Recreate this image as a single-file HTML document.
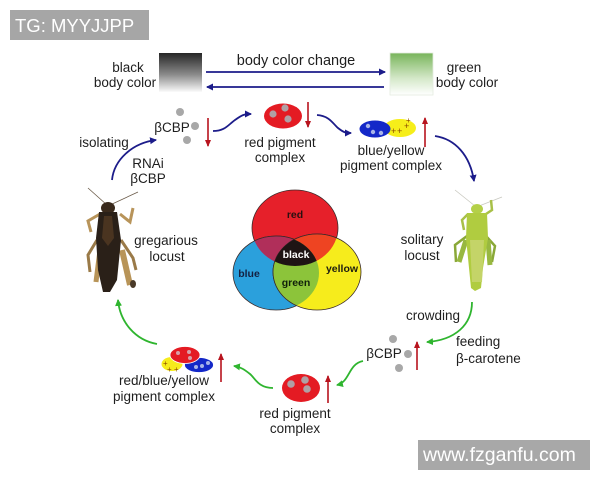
<!DOCTYPE html>
<html><head><meta charset="utf-8"><style>
html,body{margin:0;padding:0;background:#fff;}
svg{display:block;}
text{font-family:"Liberation Sans",Arial,sans-serif;fill:#1e1e1e;}
</style></head><body>
<svg width="600" height="480" viewBox="0 0 600 480" xmlns="http://www.w3.org/2000/svg">
<defs>
<linearGradient id="gb" x1="0" y1="0" x2="0" y2="1"><stop offset="0" stop-color="#262626"/><stop offset="0.55" stop-color="#8a8a8a"/><stop offset="1" stop-color="#fbfbfb"/></linearGradient>
<linearGradient id="gg" x1="0" y1="0" x2="0" y2="1"><stop offset="0" stop-color="#78b45a"/><stop offset="0.6" stop-color="#d4e8c8"/><stop offset="1" stop-color="#ffffff"/></linearGradient>
<marker id="ab" markerWidth="8" markerHeight="8" refX="6" refY="4" orient="auto" markerUnits="userSpaceOnUse"><path d="M0,0.5 L7,4 L0,7.5 Z" fill="#1c1c8a"/></marker>
<marker id="ag" markerWidth="8" markerHeight="8" refX="6" refY="4" orient="auto" markerUnits="userSpaceOnUse"><path d="M0,0.5 L7,4 L0,7.5 Z" fill="#2fb52f"/></marker>
<marker id="ar" markerWidth="8" markerHeight="8" refX="6" refY="4" orient="auto" markerUnits="userSpaceOnUse"><path d="M0,1 L7,4 L0,7 Z" fill="#b8141e"/></marker>
</defs>

<!-- top watermark -->
<rect x="10" y="10" width="139" height="30" fill="#a6a6a6"/>
<text x="15" y="32" style="font-size:18.5px;fill:#fff">TG: MYYJJPP</text>

<!-- body color change -->
<rect x="159" y="53" width="43" height="39" fill="url(#gb)"/>
<text x="128" y="72" text-anchor="middle" style="font-size:13.5px">black</text>
<text x="125" y="87" text-anchor="middle" style="font-size:13.5px">body color</text>
<rect x="390" y="53" width="43" height="42" fill="url(#gg)" stroke="#e4ece0" stroke-width="0.8"/>
<text x="464" y="72" text-anchor="middle" style="font-size:13.5px">green</text>
<text x="467" y="87" text-anchor="middle" style="font-size:13.5px">body color</text>
<text x="296" y="65" text-anchor="middle" style="font-size:14.5px">body color change</text>
<line x1="206" y1="72" x2="385" y2="72" stroke="#1c1c8a" stroke-width="1.8" marker-end="url(#ab)"/>
<line x1="384" y1="87" x2="207" y2="87" stroke="#1c1c8a" stroke-width="1.8" marker-end="url(#ab)"/>

<!-- top-left βCBP -->
<circle cx="180" cy="112" r="4" fill="#a8a8a8"/>
<circle cx="195" cy="126" r="4" fill="#a8a8a8"/>
<circle cx="187" cy="140" r="4" fill="#a8a8a8"/>
<text x="172" y="132" text-anchor="middle" style="font-size:13.5px">βCBP</text>
<line x1="208" y1="118" x2="208" y2="146" stroke="#b8141e" stroke-width="1.6" marker-end="url(#ar)"/>
<text x="104" y="147" text-anchor="middle" style="font-size:13.5px">isolating</text>
<text x="148" y="168" text-anchor="middle" style="font-size:13.5px">RNAi</text>
<text x="148" y="183" text-anchor="middle" style="font-size:13.5px">βCBP</text>
<path d="M112,180 C114,160 132,143 156,140" fill="none" stroke="#1c1c8a" stroke-width="1.8" marker-end="url(#ab)"/>

<!-- red pigment top -->
<path d="M213,131 C225,131 228,125 235,120 S244,114 251,114" fill="none" stroke="#1c1c8a" stroke-width="1.8" marker-end="url(#ab)"/>
<ellipse cx="283" cy="116" rx="19" ry="12.5" fill="#e41b23"/>
<circle cx="273" cy="114" r="3.6" fill="#b0a0a4"/>
<circle cx="285" cy="108" r="3.6" fill="#b0a0a4"/>
<circle cx="288" cy="119" r="3.6" fill="#b0a0a4"/>
<line x1="308" y1="102" x2="308" y2="127" stroke="#b8141e" stroke-width="1.6" marker-end="url(#ar)"/>
<text x="280" y="147" text-anchor="middle" style="font-size:13.5px">red pigment</text>
<text x="280" y="162" text-anchor="middle" style="font-size:13.5px">complex</text>

<!-- blue/yellow top -->
<path d="M317,115 C330,116 333,124 338,128 S345,133 351,133" fill="none" stroke="#1c1c8a" stroke-width="1.8" marker-end="url(#ab)"/>
<ellipse cx="400" cy="128" rx="16" ry="9" fill="#f6ee1a"/>
<ellipse cx="375" cy="129" rx="15.5" ry="8.5" fill="#1428c8"/>
<circle cx="368" cy="126" r="2.2" fill="#a8b4e8"/>
<circle cx="373" cy="132" r="2.2" fill="#a8b4e8"/>
<circle cx="381" cy="133" r="2.2" fill="#a8b4e8"/>
<text x="391" y="134" style="font-size:9px;fill:#8a4a00">+</text>
<text x="397" y="134" style="font-size:9px;fill:#8a4a00">+</text>
<text x="404" y="129" style="font-size:9px;fill:#8a4a00">+</text>
<text x="406" y="123" style="font-size:8px;fill:#8a4a00">+</text>
<line x1="425" y1="147" x2="425" y2="118" stroke="#b8141e" stroke-width="1.6" marker-end="url(#ar)"/>
<text x="391" y="155" text-anchor="middle" style="font-size:13.5px">blue/yellow</text>
<text x="391" y="170" text-anchor="middle" style="font-size:13.5px">pigment complex</text>
<path d="M435,136 C455,139 470,155 474,181" fill="none" stroke="#1c1c8a" stroke-width="1.8" marker-end="url(#ab)"/>

<!-- gregarious locust -->
<g>
<path d="M107,205 L88,188" stroke="#6a5a48" stroke-width="0.8" fill="none"/>
<path d="M110,205 L138,192" stroke="#6a5a48" stroke-width="0.8" fill="none"/>
<path d="M100,214 L88,221 L91,232" stroke="#b8945a" stroke-width="3" fill="none"/>
<path d="M120,214 L130,222 L133,208" stroke="#b8945a" stroke-width="3" fill="none"/>
<path d="M97,240 L88,255 L90,272" stroke="#9a7a48" stroke-width="3" fill="none"/>
<path d="M121,240 L133,258 L136,270" stroke="#9a7a48" stroke-width="3" fill="none"/>
<path d="M100,250 L96,282" stroke="#b89458" stroke-width="5" fill="none"/>
<path d="M122,250 L130,285" stroke="#b89458" stroke-width="6" fill="none"/>
<ellipse cx="108" cy="208" rx="7" ry="6" fill="#3a2a1c"/>
<path d="M99,212 L117,212 L121,240 L117,280 L110,292 L103,292 L98,270 L96,238 Z" fill="#2a2018"/>
<path d="M104,216 L112,216 L114,238 L108,246 L102,238 Z" fill="#4a3420"/>
<ellipse cx="133" cy="284" rx="3" ry="4" fill="#4a3a28"/>
</g>
<text x="166" y="245" text-anchor="middle" style="font-size:13.5px">gregarious</text>
<text x="167" y="261" text-anchor="middle" style="font-size:13.5px">locust</text>

<!-- Venn -->
<g stroke="#3a2a2a" stroke-width="0.8">
<ellipse cx="295" cy="228" rx="43" ry="38" fill="#e6202a"/>
<ellipse cx="276" cy="273" rx="43" ry="37" fill="#2ba0dc"/>
<ellipse cx="317" cy="272" rx="44" ry="38" fill="#f6ec1c"/>
</g>
<defs>
<clipPath id="cr"><ellipse cx="295" cy="228" rx="43" ry="38"/></clipPath>
<clipPath id="cb"><ellipse cx="276" cy="273" rx="43" ry="37"/></clipPath>
<clipPath id="cy"><ellipse cx="317" cy="272" rx="44" ry="38"/></clipPath>
</defs>
<g clip-path="url(#cr)"><ellipse cx="276" cy="273" rx="43" ry="37" fill="#b02f5a" stroke="#3a2a2a" stroke-width="0.8"/></g>
<g clip-path="url(#cr)"><ellipse cx="317" cy="272" rx="44" ry="38" fill="#ee4422" stroke="#3a2a2a" stroke-width="0.8"/></g>
<g clip-path="url(#cb)"><ellipse cx="317" cy="272" rx="44" ry="38" fill="#8cc43a" stroke="#3a2a2a" stroke-width="0.8"/></g>
<g clip-path="url(#cb)"><g clip-path="url(#cy)"><ellipse cx="295" cy="228" rx="43" ry="38" fill="#1e1414"/></g></g>
<text x="295" y="218" text-anchor="middle" style="font-size:10.5px;font-weight:bold;fill:#2a1010">red</text>
<text x="296" y="258" text-anchor="middle" style="font-size:10.5px;font-weight:bold;fill:#ffffff">black</text>
<text x="249" y="277" text-anchor="middle" style="font-size:10.5px;font-weight:bold;fill:#142040">blue</text>
<text x="342" y="272" text-anchor="middle" style="font-size:10.5px;font-weight:bold;fill:#1e1e10">yellow</text>
<text x="296" y="286" text-anchor="middle" style="font-size:10.5px;font-weight:bold;fill:#10200a">green</text>

<!-- solitary locust -->
<g>
<path d="M475,206 L455,190" stroke="#c8c8c0" stroke-width="0.8" fill="none"/>
<path d="M479,206 L502,197" stroke="#c8c8c0" stroke-width="0.8" fill="none"/>
<path d="M468,214 L462,220 L464,230" stroke="#a8c048" stroke-width="2.5" fill="none"/>
<path d="M486,214 L492,210 L491,200" stroke="#a8c048" stroke-width="2.5" fill="none"/>
<path d="M467,236 L455,245 L456,262" stroke="#8aa838" stroke-width="2.5" fill="none"/>
<path d="M486,236 L495,246 L492,262" stroke="#8aa838" stroke-width="2.5" fill="none"/>
<path d="M466,240 L459,262" stroke="#98b840" stroke-width="5" fill="none"/>
<path d="M488,240 L490,265" stroke="#98b840" stroke-width="5" fill="none"/>
<ellipse cx="477" cy="209" rx="6" ry="5" fill="#b4d048"/>
<path d="M467,213 L487,213 L488,238 L483,268 L481,288 L475,291 L471,288 L469,268 L466,238 Z" fill="#b0cc40"/>
<path d="M470,240 L484,240 L482,282 L472,282 Z" fill="#c4d468"/>
</g>
<text x="422" y="244" text-anchor="middle" style="font-size:13.5px">solitary</text>
<text x="422" y="260" text-anchor="middle" style="font-size:13.5px">locust</text>

<!-- bottom right -->
<path d="M472,302 C472,325 455,340 427,342" fill="none" stroke="#2fb52f" stroke-width="1.8" marker-end="url(#ag)"/>
<text x="433" y="320" text-anchor="middle" style="font-size:13.5px">crowding</text>
<text x="456" y="346" style="font-size:13.5px">feeding</text>
<text x="456" y="363" style="font-size:13.5px">β-carotene</text>
<circle cx="393" cy="339" r="4" fill="#a8a8a8"/>
<circle cx="408" cy="354" r="4" fill="#a8a8a8"/>
<circle cx="399" cy="368" r="4" fill="#a8a8a8"/>
<text x="384" y="358" text-anchor="middle" style="font-size:13.5px">βCBP</text>
<line x1="417" y1="370" x2="417" y2="342" stroke="#b8141e" stroke-width="1.6" marker-end="url(#ar)"/>
<path d="M363,361 C348,364 350,382 337,385" fill="none" stroke="#2fb52f" stroke-width="1.8" marker-end="url(#ag)"/>

<!-- red pigment bottom -->
<ellipse cx="301" cy="388" rx="19" ry="14" fill="#e41b23"/>
<circle cx="291" cy="384" r="3.8" fill="#b0a0a4"/>
<circle cx="305" cy="380" r="3.8" fill="#b0a0a4"/>
<circle cx="307" cy="389" r="3.8" fill="#b0a0a4"/>
<line x1="328" y1="403" x2="328" y2="376" stroke="#b8141e" stroke-width="1.6" marker-end="url(#ar)"/>
<text x="295" y="418" text-anchor="middle" style="font-size:13.5px">red pigment</text>
<text x="295" y="433" text-anchor="middle" style="font-size:13.5px">complex</text>
<path d="M273,388 C258,388 255,378 250,374 S241,367 234,366" fill="none" stroke="#2fb52f" stroke-width="1.8" marker-end="url(#ag)"/>

<!-- red/blue/yellow -->
<ellipse cx="172" cy="364" rx="10.5" ry="7" fill="#f6ec1c"/>
<ellipse cx="199" cy="365" rx="14.5" ry="7.5" fill="#1428c8" stroke="#fff" stroke-width="0.8"/>
<ellipse cx="185" cy="355" rx="15" ry="8.5" fill="#e41b23" stroke="#fff" stroke-width="0.8"/>
<circle cx="178" cy="353" r="2" fill="#d8a0a8"/>
<circle cx="189" cy="352" r="2" fill="#d8a0a8"/>
<circle cx="190" cy="358" r="2" fill="#d8a0a8"/>
<circle cx="196" cy="367" r="2" fill="#a8b4e8"/>
<circle cx="202" cy="366" r="2" fill="#a8b4e8"/>
<circle cx="208" cy="363" r="2" fill="#a8b4e8"/>
<text x="163" y="366" style="font-size:8px;fill:#8a4a00">+</text>
<text x="167" y="372" style="font-size:8px;fill:#8a4a00">+</text>
<text x="174" y="372" style="font-size:8px;fill:#8a4a00">+</text>
<line x1="221" y1="382" x2="221" y2="354" stroke="#b8141e" stroke-width="1.6" marker-end="url(#ar)"/>
<text x="164" y="385" text-anchor="middle" style="font-size:13.5px">red/blue/yellow</text>
<text x="164" y="401" text-anchor="middle" style="font-size:13.5px">pigment complex</text>
<path d="M157,344 C135,340 120,322 118,300" fill="none" stroke="#2fb52f" stroke-width="1.8" marker-end="url(#ag)"/>

<!-- bottom watermark -->
<rect x="418" y="440" width="172" height="30" fill="#a8a8a8"/>
<text x="423" y="461" style="font-size:19.5px;fill:#fff">www.fzganfu.com</text>
</svg>
</body></html>
